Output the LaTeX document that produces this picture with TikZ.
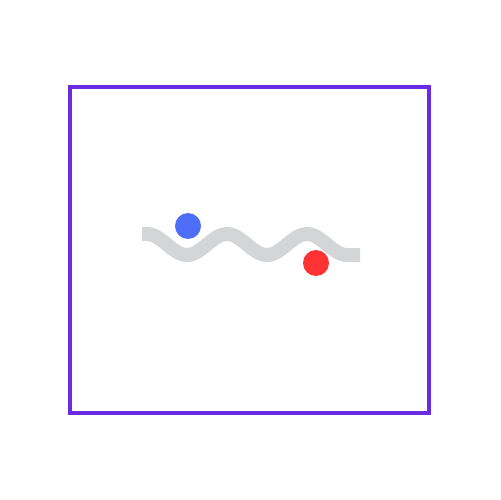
\documentclass[tikz,border=0pt]{standalone}
\usepackage{tikz}
\usetikzlibrary{positioning}
\definecolor{framepurple}{HTML}{6A2BE2}
\definecolor{wavegray}{HTML}{D4D5D6}
\definecolor{ballblue}{HTML}{4F6EF7}
\definecolor{ballred}{HTML}{FF3333}
\begin{document}
\begin{tikzpicture}[x=0.02cm, y=-0.02cm,
    frame/.style={draw=framepurple, line width=0.08cm},
    wave/.style={draw=wavegray, line width=0.28cm, line join=round},
    ball/.style={circle, minimum size=0.52cm, inner sep=0pt}
  ]
    \useasboundingbox (0,0) rectangle (500,500);

    % Frame
    \draw[frame] (70,87) rectangle (429,413);

    % Wave
    \draw[wave] (142,234) -- (147,234)
      -- plot[domain=147:347, samples=81, smooth] ({\x},{244.5-10.5*cos((\x-147)*4.5)})
      -- (360,255);

    % Balls
    \node[ball, fill=ballblue] (blue) at (188,226) {};
    \node[ball, fill=ballred] (red) at (316,263) {};
\end{tikzpicture}
\end{document}
